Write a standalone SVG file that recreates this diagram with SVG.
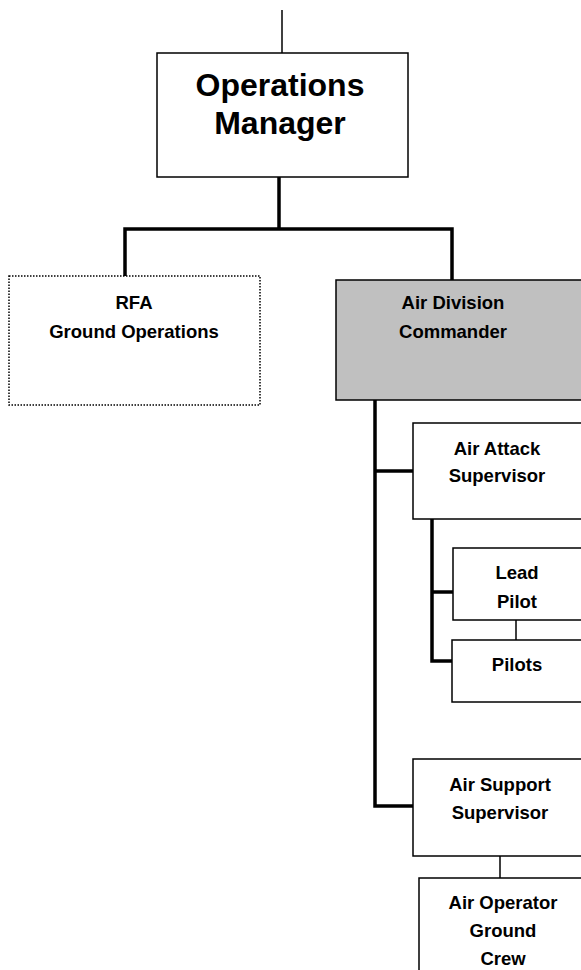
<svg xmlns="http://www.w3.org/2000/svg" width="581" height="970" viewBox="0 0 581 970">
<style>
.box{fill:#fff;stroke:#000;stroke-width:1.5}
.gray{fill:#c0c0c0}
.dot{stroke-dasharray:1.5 1.5;stroke-width:1.5}
.t{font-family:"Liberation Sans",Arial,sans-serif;font-weight:bold;font-size:18.5px;text-anchor:middle;fill:#000}
.big{font-size:32px}
.thick{stroke:#000;stroke-width:3.5;fill:none}
.thin{stroke:#000;stroke-width:1.5;fill:none}
</style>
<rect width="581" height="970" fill="#fff"/>
<g id="connectors">
<line class="thin" x1="282" y1="10" x2="282" y2="53"/>
<line class="thick" x1="279" y1="177" x2="279" y2="229"/>
<polyline class="thick" points="125,276 125,229 452,229 452,280"/>
<polyline class="thick" points="375,400 375,806 413,806"/>
<line class="thick" x1="375" y1="471" x2="413" y2="471"/>
<polyline class="thick" points="432,519 432,661 452,661"/>
<line class="thick" x1="432" y1="592" x2="453" y2="592"/>
<line class="thin" x1="516" y1="620" x2="516" y2="640"/>
<line class="thin" x1="500" y1="856" x2="500" y2="878"/>
</g>
<g id="ops-manager">
<rect class="box" x="157" y="53" width="251" height="124"/>
<text class="t big" x="280" y="96">Operations</text>
<text class="t big" x="280" y="134">Manager</text>
</g>
<g id="rfa">
<rect class="box dot" x="9" y="276" width="251" height="129"/>
<text class="t" x="134" y="309">RFA</text>
<text class="t" x="134" y="338">Ground Operations</text>
</g>
<g id="air-division">
<rect class="box gray" x="336" y="280" width="260" height="120"/>
<text class="t" x="453" y="309">Air Division</text>
<text class="t" x="453" y="338">Commander</text>
</g>
<g id="air-attack">
<rect class="box" x="413" y="423" width="180" height="96"/>
<text class="t" x="497" y="455">Air Attack</text>
<text class="t" x="497" y="482">Supervisor</text>
</g>
<g id="lead-pilot">
<rect class="box" x="453" y="548" width="140" height="72"/>
<text class="t" x="517" y="579">Lead</text>
<text class="t" x="517" y="608">Pilot</text>
</g>
<g id="pilots">
<rect class="box" x="452" y="640" width="140" height="62"/>
<text class="t" x="517" y="671">Pilots</text>
</g>
<g id="air-support">
<rect class="box" x="413" y="759" width="180" height="97"/>
<text class="t" x="500" y="791">Air Support</text>
<text class="t" x="500" y="819">Supervisor</text>
</g>
<g id="air-operator">
<rect class="box" x="419" y="878" width="180" height="110"/>
<text class="t" x="503" y="909">Air Operator</text>
<text class="t" x="503" y="937">Ground</text>
<text class="t" x="503" y="965">Crew</text>
</g>
</svg>
